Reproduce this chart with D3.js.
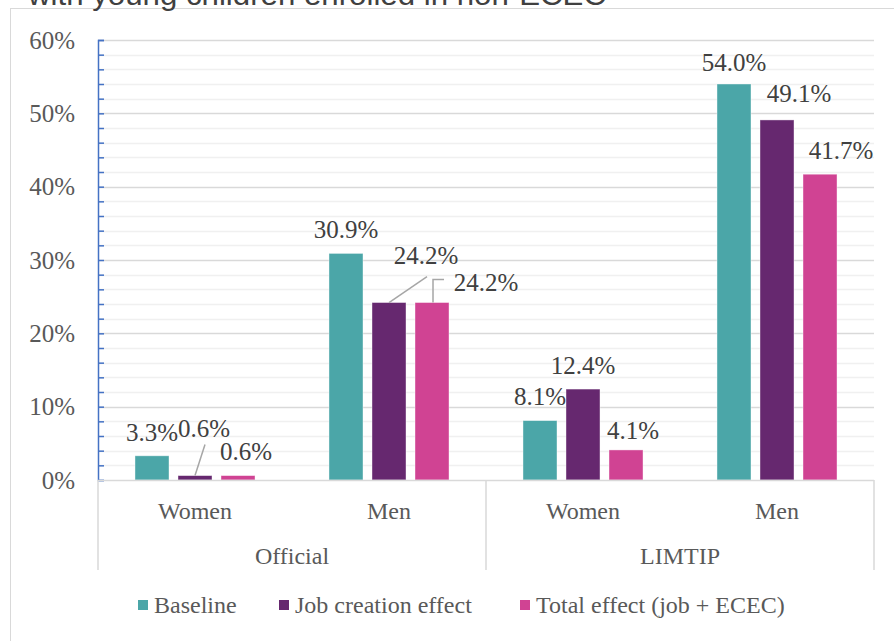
<!DOCTYPE html>
<html>
<head>
<meta charset="utf-8">
<script src="https://cdn.jsdelivr.net/npm/d3@7/dist/d3.min.js"></script>
<style>
  html, body { margin: 0; padding: 0; background: #fff; }
  svg { display: block; }
  text { font-family: "Liberation Serif", serif; }
</style>
</head>
<body>
<div id="chart"></div>
<script>
// ---- data ----
const titleText = "with young children enrolled in non-ECEC";
const groups = ["Official", "LIMTIP"];
const subCategories = ["Women", "Men"];
const seriesNames = ["Baseline", "Job creation effect", "Total effect (job + ECEC)"];
const baseline = [3.3, 30.9, 8.1, 54.0];
const jobCreation = [0.6, 24.2, 12.4, 49.1];
const totalEffect = [0.6, 24.2, 4.1, 41.7];
const yTickValues = [0, 10, 20, 30, 40, 50, 60];

// ---- layout / style ----
const W = 894, H = 641;
const colors = ["#4BA6A8", "#66286F", "#D04393"];
// label nudges (px) per series per category [dx, dy]
const labelNudge = [
  [[0, 0], [0, 0], [0, 0], [0, 2]],
  [[9, -23], [37, -23], [0, 0], [22, -3]],
  [[8, 0], [54, 4], [7, 4], [21, 0]]
];
// leader lines: [seriesIndex, categoryIndex, kind, endDy]
const leaders = [
  [1, 0, "straight", 16],
  [1, 1, "straight", 21],
  [2, 1, "elbow", -3]
];

const seriesValues = [baseline, jobCreation, totalEffect];
const categories = [];
groups.forEach(g => subCategories.forEach(s => categories.push(g + "|" + s)));

const plotLeft = 98, plotRight = 874, plotTop = 40, plotBottom = 480;

const svg = d3.select("#chart").append("svg").attr("width", W).attr("height", H);

// outer chart border
svg.append("rect").attr("x", 10.5).attr("y", 8.5).attr("width", W + 20).attr("height", H + 20)
  .attr("fill", "none").attr("stroke", "#d9d9d9").attr("stroke-width", 1);

// title (cut off at top, as in the source crop)
svg.append("text").attr("x", 28).attr("y", 5).text(titleText)
  .style("font-family", "Liberation Sans, Arial, sans-serif")
  .attr("font-size", 30).attr("fill", "#404040")
  .attr("textLength", 578).attr("lengthAdjust", "spacingAndGlyphs");

const x0 = d3.scaleBand().domain(categories).range([plotLeft, plotRight]).paddingInner(0).paddingOuter(0);
const x1 = d3.scaleBand().domain(d3.range(seriesNames.length)).range([0, x0.bandwidth()])
  .paddingInner(9 / 43).paddingOuter(0.86);
const y = d3.scaleLinear().domain([0, 60]).range([plotBottom, plotTop]);

// gridlines: minor every 2%, major every 10%
const minorTicks = d3.range(0, 61, 2).filter(v => v % 10 !== 0);
svg.append("g").selectAll("line").data(minorTicks).join("line")
  .attr("x1", plotLeft).attr("x2", plotRight)
  .attr("y1", d => Math.round(y(d)) + 0.5).attr("y2", d => Math.round(y(d)) + 0.5)
  .attr("stroke", "#f0f0f0").attr("stroke-width", 1.5);
svg.append("g").selectAll("line").data(yTickValues.filter(v => v > 0)).join("line")
  .attr("x1", plotLeft).attr("x2", plotRight)
  .attr("y1", d => Math.round(y(d)) + 0.5).attr("y2", d => Math.round(y(d)) + 0.5)
  .attr("stroke", "#d9d9d9").attr("stroke-width", 1.5);

// y axis (blue line with inward ticks)
const yAxis = d3.axisRight(y).tickValues(d3.range(0, 61, 2)).tickSize(6).tickFormat("");
const gy = svg.append("g").attr("transform", `translate(${plotLeft},0)`).call(yAxis);
gy.select(".domain").attr("stroke", "#4472C4").attr("stroke-width", 1.5);
gy.selectAll(".tick line").attr("stroke", "#4472C4").attr("stroke-width", 1.5);

// y tick labels
svg.append("g").selectAll("text").data(yTickValues).join("text")
  .attr("x", 75).attr("y", d => y(d)).attr("dy", "0.35em")
  .attr("text-anchor", "end").attr("font-size", 25).attr("fill", "#595959")
  .style("font-family", "Liberation Serif, serif")
  .text(d => d + "%");

// bars
seriesValues.forEach((vals, si) => {
  svg.append("g").selectAll("rect").data(vals).join("rect")
    .attr("x", (d, i) => x0(categories[i]) + x1(si))
    .attr("y", d => y(d))
    .attr("width", x1.bandwidth())
    .attr("height", d => y(0) - y(d))
    .attr("fill", colors[si])
    .attr("stroke", "#ffffff").attr("stroke-opacity", 0.5).attr("stroke-width", 0.8);
});

// x axis baseline
svg.append("line").attr("x1", plotLeft).attr("x2", plotRight).attr("y1", plotBottom + 0.5).attr("y2", plotBottom + 0.5)
  .attr("stroke", "#d9d9d9").attr("stroke-width", 1.5);

// group separators
const groupEdges = [plotLeft, (plotLeft + plotRight) / 2, plotRight];
svg.append("g").selectAll("line").data(groupEdges).join("line")
  .attr("x1", d => d).attr("x2", d => d).attr("y1", plotBottom).attr("y2", 570)
  .attr("stroke", "#d9d9d9").attr("stroke-width", 1.5);

// sub-category labels
svg.append("g").selectAll("text").data(categories).join("text")
  .attr("x", d => x0(d) + x0.bandwidth() / 2).attr("y", 511).attr("dy", "0.35em")
  .attr("text-anchor", "middle").attr("font-size", 24).attr("fill", "#595959")
  .text(d => d.split("|")[1]);

// group labels
svg.append("g").selectAll("text").data(groups).join("text")
  .attr("x", (d, i) => (groupEdges[i] + groupEdges[i + 1]) / 2).attr("y", 556).attr("dy", "0.35em")
  .attr("text-anchor", "middle").attr("font-size", 24).attr("fill", "#595959")
  .text(d => d);

// data labels
function labelPos(si, ci) {
  const v = seriesValues[si][ci];
  const cx = x0(categories[ci]) + x1(si) + x1.bandwidth() / 2;
  const n = labelNudge[si][ci];
  return { bx: cx, by: y(v), lx: cx + n[0], ly: y(v) - 24 + n[1] };
}
seriesValues.forEach((vals, si) => {
  svg.append("g").selectAll("text").data(vals).join("text")
    .attr("x", (d, i) => labelPos(si, i).lx)
    .attr("y", (d, i) => labelPos(si, i).ly)
    .attr("dy", "0.35em").attr("text-anchor", "middle")
    .attr("font-size", 25).attr("fill", "#404040")
    .style("font-family", "Liberation Serif, serif")
    .text(d => d.toFixed(1) + "%");
});

// leader lines
leaders.forEach(([si, ci, kind, endDy]) => {
  const p = labelPos(si, ci);
  let pts;
  if (kind === "straight") {
    pts = [[p.bx, p.by], [p.lx + 1, p.ly + endDy]];
  } else {
    const ex = p.bx + 1;
    pts = [[ex, p.by], [ex, p.ly + endDy], [p.lx - 42, p.ly + endDy]];
  }
  svg.append("path").attr("d", d3.line()(pts))
    .attr("fill", "none").attr("stroke", "#a6a6a6").attr("stroke-width", 1.5);
});

// legend
const legendX = [138, 279, 520];
const lg = svg.append("g");
seriesNames.forEach((name, i) => {
  lg.append("rect").attr("x", legendX[i]).attr("y", 600).attr("width", 10).attr("height", 10)
    .attr("fill", colors[i]);
  lg.append("text").attr("x", legendX[i] + 16).attr("y", 605).attr("dy", "0.35em")
    .attr("font-size", 24).attr("fill", "#595959").text(name);
});
</script>
</body>
</html>
